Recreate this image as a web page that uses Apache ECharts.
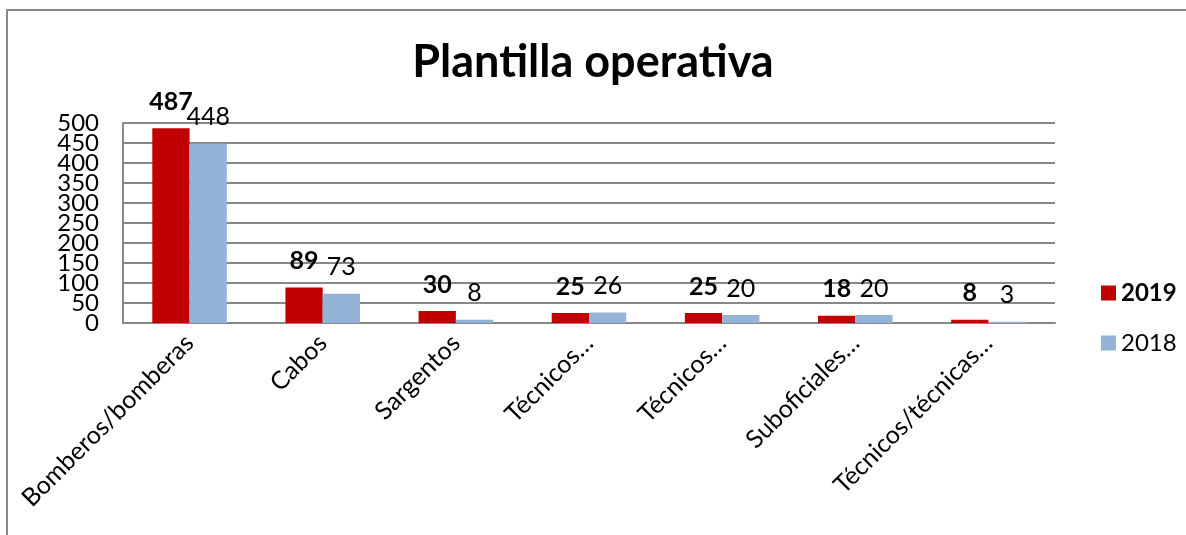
<!DOCTYPE html>
<html>
<head>
<meta charset="utf-8">
<script src="https://cdn.jsdelivr.net/npm/echarts@6/dist/echarts.min.js"></script>
<style>
  html, body { margin: 0; padding: 0; background: #fff; }
  #chart { width: 1186px; height: 535px; }
</style>
</head>
<body>
<div id="chart"></div>
<script>
// categorías (texto ya recortado como en el original)
const categories = ['Bomberos/bomberas', 'Cabos', 'Sargentos', 'Técnicos…', 'Técnicos…', 'Suboficiales…', 'Técnicos/técnicas…'];
const values2019 = [487, 89, 30, 25, 25, 18, 8];
const values2018 = [448, 73, 8, 26, 20, 20, 3];

const FONT = 'Lato, "Open Sans", sans-serif';
const Y_MIN = 0, Y_MAX = 500, Y_STEP = 50;

const chart = echarts.init(document.getElementById('chart'));

// las etiquetas del eje Y se solapan (como en Excel): se reparten en dos ejes
// idénticos para que ECharts no oculte ninguna
function yAxisDef(even) {
    return {
        type: 'value',
        min: Y_MIN,
        max: Y_MAX,
        interval: Y_STEP,
        position: 'left',
        axisLine: { show: even, lineStyle: { color: '#888', width: 2 } },
        axisTick: { show: false },
        splitLine: { show: even, lineStyle: { color: '#888', width: 2 } },
        axisLabel: {
            margin: 24,
            fontFamily: FONT,
            fontSize: 24,
            color: '#000',
            showMinLabel: even,
            showMaxLabel: even,
            formatter: v => ((Math.round(v / Y_STEP) % 2 === 0) === even ? String(v) : '')
        }
    };
}

chart.setOption({
    animation: false,
    title: {
        text: 'Plantilla operativa',
        left: 'center',
        top: 35,
        textStyle: { fontFamily: FONT, fontSize: 45, fontWeight: 'bold', color: '#000' }
    },
    graphic: [{
        type: 'polyline',
        shape: { points: [[7, 535], [7, 10], [1186, 10]] },
        style: { stroke: '#888', lineWidth: 2, fill: null }
    }],
    legend: {
        orient: 'vertical',
        left: 1096,
        top: 276,
        itemGap: 26,
        itemWidth: 15,
        itemHeight: 15,
        icon: 'rect',
        data: ['2019', '2018'],
        formatter: name => name === '2019' ? '{b|2019}' : '{n|2018}',
        textStyle: {
            fontFamily: FONT,
            rich: {
                b: { fontFamily: FONT, fontSize: 24, fontWeight: 'bold', color: '#000' },
                n: { fontFamily: FONT, fontSize: 24, color: '#000' }
            }
        }
    },
    grid: { left: 123, right: 131, top: 123, bottom: 212, containLabel: false },
    xAxis: {
        type: 'category',
        data: categories,
        axisLine: { lineStyle: { color: '#888', width: 2 } },
        axisTick: { show: false },
        axisLabel: {
            rotate: 45,
            interval: 0,
            margin: 16,
            fontFamily: FONT,
            fontSize: 25,
            color: '#000'
        }
    },
    yAxis: [yAxisDef(true), yAxisDef(false)],
    series: [
        {
            name: '2019',
            type: 'bar',
            data: values2019,
            barWidth: '28%',
            barGap: '0%',
            itemStyle: { color: '#C00000' },
            label: {
                show: true,
                position: 'top',
                distance: 14,
                fontFamily: FONT,
                fontSize: 25,
                fontWeight: 'bold',
                color: '#000'
            }
        },
        {
            name: '2018',
            type: 'bar',
            data: values2018,
            barWidth: '28%',
            itemStyle: { color: '#95B3D7' },
            label: {
                show: true,
                position: 'top',
                distance: 14,
                fontFamily: FONT,
                fontSize: 25,
                color: '#000'
            }
        }
    ]
});

window.addEventListener('resize', () => chart.resize());
</script>
</body>
</html>
